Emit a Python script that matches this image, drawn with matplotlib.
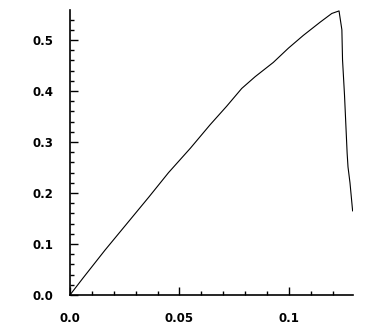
import matplotlib
matplotlib.use('Agg')
import matplotlib.pyplot as plt
from matplotlib.ticker import MultipleLocator, FormatStrFormatter

# strain / stress readings taken off the reference curve
strain = [0.0, 0.0061, 0.0160, 0.0260, 0.0360, 0.0450, 0.0550,
          0.0640, 0.0715, 0.0784, 0.0845, 0.0928, 0.0997, 0.1065, 0.1142,
          0.1195, 0.1228, 0.1241, 0.1244, 0.1253, 0.1265, 0.1269, 0.1278, 0.1290]
stress = [0.0, 0.034, 0.088, 0.140, 0.192, 0.240, 0.288,
          0.334, 0.370, 0.405, 0.428, 0.456, 0.484, 0.509, 0.535,
          0.552, 0.557, 0.520, 0.461, 0.392, 0.278, 0.251, 0.220, 0.165]

x_ticks = [0.0, 0.05, 0.1]
x_labels = ['0.0', '0.05', '0.1']
y_ticks = [0.0, 0.1, 0.2, 0.3, 0.4, 0.5]

fig = plt.figure(figsize=(3.78, 3.30), dpi=100)
ax = fig.add_axes([0.185, 0.106, 0.749, 0.864])

ax.plot(strain, stress, color='black', linewidth=0.8)

ax.set_xlim(0, 0.1292)
ax.set_ylim(0, 0.559)

ax.spines['top'].set_visible(False)
ax.spines['right'].set_visible(False)
ax.spines['left'].set_linewidth(1.2)
ax.spines['bottom'].set_linewidth(1.2)

ax.set_xticks(x_ticks)
ax.set_xticklabels(x_labels)
ax.set_yticks(y_ticks)
ax.yaxis.set_major_formatter(FormatStrFormatter('%.1f'))
ax.xaxis.set_minor_locator(MultipleLocator(0.01))
ax.yaxis.set_minor_locator(MultipleLocator(0.02))

ax.tick_params(which='both', direction='in', color='black', width=1)
ax.tick_params(which='major', length=6, labelsize=8.5, pad=12)
ax.tick_params(which='minor', length=3)
for lab in ax.get_xticklabels() + ax.get_yticklabels():
    lab.set_fontweight('bold')

fig.savefig('out.png', dpi=100)
